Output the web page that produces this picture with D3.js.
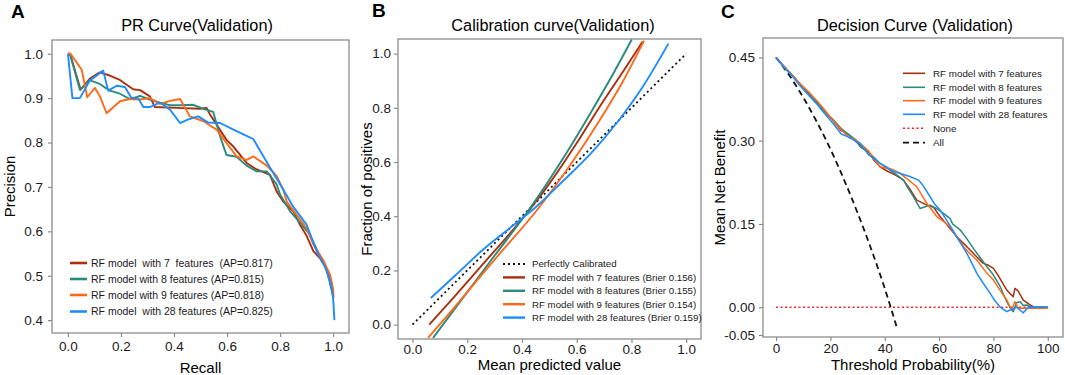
<!DOCTYPE html>
<html>
<head>
<meta charset="utf-8">
<script src="https://cdn.jsdelivr.net/npm/d3@7"></script>
<style>
body { margin: 0; background: #fff; }
svg { font-family: "Liberation Sans", Arial, sans-serif; }
.frame { fill: none; stroke: #8c8c8c; stroke-width: 1.3; }
.axis path { display: none; }
.axis line { stroke: #8c8c8c; stroke-width: 1.2; }
.axis text { font-size: 13.5px; fill: #1a1a1a; font-family: "Liberation Sans", Arial, sans-serif; }
.legend text { fill: #1a1a1a; white-space: pre; }
</style>
</head>
<body>
<svg width="1065" height="375"></svg>
<script>

/*Colours of the four RF models (7, 8, 9 and 28 features)*/
var modelColors = ["#a8300f", "#2a8a7e", "#ff6a1a", "#1e8cff"];

/*PR curve (validation), [recall, precision]*/
var prRF7 = [[0,1.0],[0.008,1.0],[0.048,0.919],[0.083,0.944],[0.12,0.958],[0.158,0.951],[0.196,0.941],[0.246,0.92],[0.272,0.918],[0.309,0.904],[0.328,0.88],[0.41,0.878],[0.498,0.876],[0.523,0.878],[0.536,0.863],[0.598,0.806],[0.624,0.791],[0.674,0.754],[0.71,0.74],[0.762,0.727],[0.787,0.69],[0.812,0.667],[0.85,0.645],[0.875,0.615],[0.9,0.59],[0.926,0.555],[0.95,0.54],[0.97,0.52],[0.989,0.495],[1.0,0.46]];
var prRF8 = [[0,1.0],[0.01,0.995],[0.045,0.919],[0.083,0.94],[0.12,0.932],[0.158,0.917],[0.196,0.91],[0.234,0.898],[0.272,0.905],[0.309,0.897],[0.347,0.89],[0.385,0.884],[0.423,0.884],[0.473,0.885],[0.511,0.876],[0.548,0.869],[0.574,0.814],[0.598,0.772],[0.636,0.768],[0.674,0.748],[0.712,0.735],[0.75,0.735],[0.787,0.706],[0.8,0.683],[0.838,0.645],[0.875,0.62],[0.913,0.592],[0.938,0.56],[0.975,0.515],[1.0,0.455]];
var prRF9 = [[0,1.0],[0.01,1.0],[0.052,0.964],[0.073,0.902],[0.102,0.923],[0.12,0.905],[0.146,0.866],[0.196,0.893],[0.234,0.898],[0.272,0.897],[0.309,0.9],[0.347,0.887],[0.385,0.894],[0.423,0.898],[0.46,0.859],[0.511,0.848],[0.561,0.829],[0.598,0.799],[0.636,0.769],[0.674,0.761],[0.699,0.769],[0.75,0.748],[0.787,0.725],[0.812,0.694],[0.825,0.667],[0.862,0.637],[0.9,0.607],[0.926,0.57],[0.963,0.535],[0.989,0.502],[1.0,0.47],[1.002,0.45]];
var prRF28 = [[0,1.0],[0.017,0.9],[0.045,0.9],[0.083,0.94],[0.133,0.962],[0.152,0.917],[0.184,0.928],[0.215,0.925],[0.24,0.9],[0.265,0.9],[0.284,0.88],[0.309,0.88],[0.347,0.89],[0.385,0.874],[0.423,0.844],[0.454,0.852],[0.492,0.859],[0.529,0.845],[0.574,0.844],[0.624,0.829],[0.674,0.815],[0.699,0.808],[0.737,0.769],[0.775,0.731],[0.812,0.694],[0.85,0.655],[0.9,0.615],[0.938,0.555],[0.97,0.52],[0.99,0.485],[1.0,0.45],[1.005,0.40]];
var prLabels = ["RF model  with 7  features  (AP=0.817)", "RF model with 8 features (AP=0.815)", "RF model with 9 features (AP=0.818)", "RF model  with 28 features (AP=0.825)"];

/*Calibration curve (validation), [mean predicted value, fraction of positives]*/
var calPerfect = [[0,0],[1,1]];
var calRF7 = [[0.061,0.0],[0.15,0.1],[0.25,0.215],[0.393,0.381],[0.502,0.523],[0.6,0.67],[0.685,0.806],[0.77,0.935],[0.841,1.045]];
var calRF8 = [[0.075,-0.049],[0.2,0.12],[0.3,0.255],[0.417,0.412],[0.5,0.535],[0.563,0.634],[0.65,0.78],[0.73,0.92],[0.801,1.052]];
var calRF9 = [[0.057,-0.049],[0.15,0.06],[0.3,0.24],[0.466,0.437],[0.57,0.58],[0.685,0.756],[0.77,0.9],[0.846,1.048]];
var calRF28 = [[0.067,0.098],[0.16,0.185],[0.258,0.277],[0.36,0.36],[0.454,0.437],[0.55,0.53],[0.65,0.63],[0.746,0.744],[0.84,0.876],[0.935,1.037]];
var calLabels = ["Perfectly Calibrated", "RF model with 7 features (Brier 0.156)", "RF model with 8 features (Brier 0.155)", "RF model with 9 features (Brier 0.154)", "RF model with 28 features (Brier 0.159)"];

/*Decision curve (validation), [threshold probability %, mean net benefit]*/
var dcRF7 = [[0,0.45],[3,0.432],[6,0.418],[9,0.40],[12,0.385],[15,0.37],[18,0.352],[21,0.336],[24,0.318],[27,0.31],[29,0.30],[31,0.292],[34,0.28],[36,0.265],[38.3,0.253],[41,0.245],[44,0.238],[46.9,0.229],[49,0.215],[51.8,0.193],[55.5,0.184],[58,0.18],[60.4,0.163],[63,0.148],[66.5,0.127],[69,0.115],[71.4,0.103],[74,0.09],[76.3,0.079],[78,0.076],[80,0.07],[82,0.055],[84.9,0.031],[86,0.025],[87.3,0.019],[87.9,0.034],[89,0.03],[91,0.013],[93.6,0.004],[95,0.0],[100,0.0]];
var dcRF8 = [[0,0.45],[3,0.434],[6,0.418],[9,0.401],[12,0.386],[15,0.368],[18,0.352],[21,0.338],[24,0.322],[27,0.31],[29,0.303],[31,0.289],[34,0.279],[36,0.27],[38.3,0.259],[41,0.25],[44,0.24],[46.9,0.229],[48.5,0.215],[50.6,0.199],[53,0.178],[56.7,0.184],[59,0.178],[61.6,0.169],[64,0.16],[65,0.15],[67.8,0.139],[70,0.125],[72.6,0.106],[75,0.09],[77.6,0.073],[80,0.058],[82.5,0.037],[84.9,0.01],[86,0.0],[87.3,-0.008],[88.5,0.008],[89.8,0.01],[91,0.003],[92.2,0.004],[94,0.0],[100,0.0]];
var dcRF9 = [[0,0.45],[3,0.433],[6,0.418],[9,0.402],[12,0.388],[15,0.372],[18,0.355],[21,0.336],[24,0.32],[27,0.305],[29,0.303],[31,0.295],[34,0.282],[36,0.267],[38.3,0.253],[41,0.25],[43,0.248],[45.7,0.241],[48,0.232],[51.8,0.217],[55.5,0.187],[59.2,0.163],[61,0.157],[64.1,0.145],[66,0.13],[69,0.109],[71,0.098],[73.9,0.085],[77,0.065],[80,0.049],[82.5,0.03],[84.9,0.013],[86.7,-0.005],[87.9,0.01],[89,0.0],[89.8,-0.002],[100,-0.002]];
var dcRF28 = [[0,0.45],[3,0.432],[6,0.416],[9,0.398],[12,0.382],[15,0.366],[18,0.348],[21,0.331],[24,0.312],[27,0.306],[29,0.3],[31,0.295],[34,0.275],[36,0.268],[38.3,0.259],[41,0.252],[43,0.245],[45.7,0.241],[49,0.236],[52.4,0.229],[54,0.22],[56.7,0.199],[58.5,0.185],[60.4,0.175],[63,0.155],[66.5,0.127],[68,0.115],[70.2,0.097],[72,0.08],[73.9,0.061],[76,0.045],[78.8,0.025],[80.5,0.012],[82.5,0.0],[84.9,-0.008],[86.5,-0.004],[88.6,0.0],[90,-0.006],[91,-0.01],[92.8,0.0],[100,0.0]];
var dcNone = [[0,0],[100,0]];
var dcAll = [[0,0.45],[5,0.417],[10,0.378],[15,0.334],[20,0.285],[25,0.23],[30,0.17],[35,0.105],[40,0.034],[44.3,-0.034]];
var dcLabels = ["RF model with 7 features", "RF model with 8 features", "RF model with 9 features", "RF model with 28 features", "None", "All"];

/*Tick values for each panel*/
var ticksUnit = [0, 0.2, 0.4, 0.6, 0.8, 1.0];
var ticksPrecision = [0.4, 0.5, 0.6, 0.7, 0.8, 0.9, 1.0];
var ticksThreshold = [0, 20, 40, 60, 80, 100];
var ticksBenefit = [-0.05, 0, 0.15, 0.30, 0.45];

var svg = d3.select("svg");
var defs = svg.append("defs");

/*Draws the frame, the axes and the texts of one panel, and returns its scales*/
function panel(p) {
  var x = d3.scaleLinear().domain(p.xDomain).range([p.left, p.right]),
      y = d3.scaleLinear().domain(p.yDomain).range([p.bottom, p.top]);

  defs.append("clipPath").attr("id", "clip-" + p.id)
    .append("rect")
      .attr("x", p.left).attr("y", p.top)
      .attr("width", p.right - p.left).attr("height", p.bottom - p.top);

  svg.append("g")
      .attr("class", "axis")
      .attr("transform", "translate(0," + p.bottom + ")")
      .call(d3.axisBottom(x).tickValues(p.xTicks).tickFormat(p.xFormat).tickSize(4).tickPadding(p.xPad));

  svg.append("g")
      .attr("class", "axis")
      .attr("transform", "translate(" + p.left + ",0)")
      .call(d3.axisLeft(y).tickValues(p.yTicks).tickFormat(p.yFormat).tickSize(4).tickPadding(p.yPad));

  svg.append("rect")
      .attr("class", "frame")
      .attr("x", p.left).attr("y", p.top)
      .attr("width", p.right - p.left).attr("height", p.bottom - p.top);

  svg.append("text")
      .attr("x", p.letterX).attr("y", p.letterY)
      .style("font-size", "19px").style("font-weight", "bold")
      .text(p.letter);

  svg.append("text")
      .attr("x", p.titleX).attr("y", 31)
      .attr("text-anchor", "middle")
      .style("font-size", "16.3px")
      .text(p.title);

  svg.append("text")
      .attr("x", (p.left + p.right) / 2).attr("y", p.xLabelY)
      .attr("text-anchor", "middle")
      .style("font-size", "15px")
      .text(p.xLabel);

  svg.append("text")
      .attr("transform", "translate(" + p.yLabelX + "," + (p.top + p.bottom) / 2 + ") rotate(-90)")
      .attr("text-anchor", "middle")
      .style("font-size", "15px")
      .text(p.yLabel);

  return {x: x, y: y, id: p.id};
}

/*One line per series, clipped to the frame*/
function drawLine(sc, data, color, width, dash, curve) {
  var line = d3.line()
      .x(function(d) { return sc.x(d[0]); })
      .y(function(d) { return sc.y(d[1]); })
      .curve(curve || d3.curveLinear);
  svg.append("path")
      .datum(data)
      .attr("clip-path", "url(#clip-" + sc.id + ")")
      .attr("fill", "none")
      .attr("stroke", color)
      .attr("stroke-width", width)
      .attr("stroke-dasharray", dash || null)
      .attr("stroke-linejoin", "round")
      .attr("d", line);
}

/*Legend: a short line sample and a label per entry*/
function legend(items, lx0, lx1, tx, rows, fontSize) {
  var g = svg.append("g").attr("class", "legend");
  items.forEach(function(it, i) {
    g.append("line")
        .attr("x1", lx0).attr("x2", lx1)
        .attr("y1", rows[i]).attr("y2", rows[i])
        .attr("stroke", it.color)
        .attr("stroke-width", it.width)
        .attr("stroke-dasharray", it.dash || null);
    g.append("text")
        .attr("x", tx).attr("y", rows[i])
        .attr("dy", "0.35em")
        .style("font-size", fontSize + "px")
        .text(it.label);
  });
}

var fmt1 = d3.format(".1f");
function fmt2(d) { return d3.format(".2f")(d).replace("\u2212", "-"); }

/*A: PR curve*/
var a = panel({
  id: "a", left: 52, right: 349, top: 40, bottom: 333,
  xDomain: [-0.06, 1.06], yDomain: [0.371, 1.031],
  xTicks: ticksUnit, yTicks: ticksPrecision, xFormat: fmt1, yFormat: fmt1, xPad: 4, yPad: 5,
  letter: "A", letterX: 11, letterY: 18, title: "PR Curve(Validation)", titleX: 197,
  xLabel: "Recall", xLabelY: 373, yLabel: "Precision", yLabelX: 15
});
[prRF7, prRF8, prRF9, prRF28].forEach(function(s, i) {
  drawLine(a, s, modelColors[i], 1.9);
});
legend(prLabels.map(function(l, i) { return {label: l, color: modelColors[i], width: 2.6}; }),
  70, 87, 91, [263, 279, 295, 311.5], 10.5);

/*B: calibration curve*/
var b = panel({
  id: "b", left: 398, right: 701, top: 39, bottom: 339,
  xDomain: [-0.053, 1.054], yDomain: [-0.053, 1.054],
  xTicks: ticksUnit, yTicks: ticksUnit, xFormat: fmt1, yFormat: fmt1, xPad: 1, yPad: 3,
  letter: "B", letterX: 372, letterY: 17, title: "Calibration curve(Validation)", titleX: 553,
  xLabel: "Mean predicted value", xLabelY: 370, yLabel: "Fraction of positives", yLabelX: 372
});
drawLine(b, calPerfect, "#111", 1.8, "2,3");
[calRF7, calRF8, calRF9, calRF28].forEach(function(s, i) {
  drawLine(b, s, modelColors[i], 1.9, null, d3.curveMonotoneX);
});
legend(calLabels.map(function(l, i) {
  return i === 0 ? {label: l, color: "#111", width: 1.8, dash: "2,3"} : {label: l, color: modelColors[i - 1], width: 2.4};
}), 503, 525, 532, [264, 277.4, 290.8, 304.2, 317.6], 9.7);

/*C: decision curve*/
var c = panel({
  id: "c", left: 763, right: 1063, top: 38, bottom: 337,
  xDomain: [-4.8, 105.6], yDomain: [-0.0536, 0.485],
  xTicks: ticksThreshold, yTicks: ticksBenefit, xFormat: d3.format("d"), yFormat: fmt2, xPad: 2, yPad: 4,
  letter: "C", letterX: 721, letterY: 18, title: "Decision Curve (Validation)", titleX: 915,
  xLabel: "Threshold Probability(%)", xLabelY: 370, yLabel: "Mean Net Benefit", yLabelX: 725
});
drawLine(c, dcNone, "#ff2020", 1.6, "2,2.5");
drawLine(c, dcAll, "#111", 1.8, "6,4", d3.curveMonotoneX);
[dcRF7, dcRF8, dcRF9, dcRF28].forEach(function(s, i) {
  drawLine(c, s, modelColors[i], 1.5);
});
legend(dcLabels.map(function(l, i) {
  if (i < 4) return {label: l, color: modelColors[i], width: 1.6};
  if (i === 4) return {label: l, color: "#ff2020", width: 1.6, dash: "2,2.5"};
  return {label: l, color: "#111", width: 1.8, dash: "6,4"};
}), 903, 925, 933, [73.3, 87.3, 100.7, 114.3, 128.3, 142.7], 9.8);

</script>
</body>
</html>
